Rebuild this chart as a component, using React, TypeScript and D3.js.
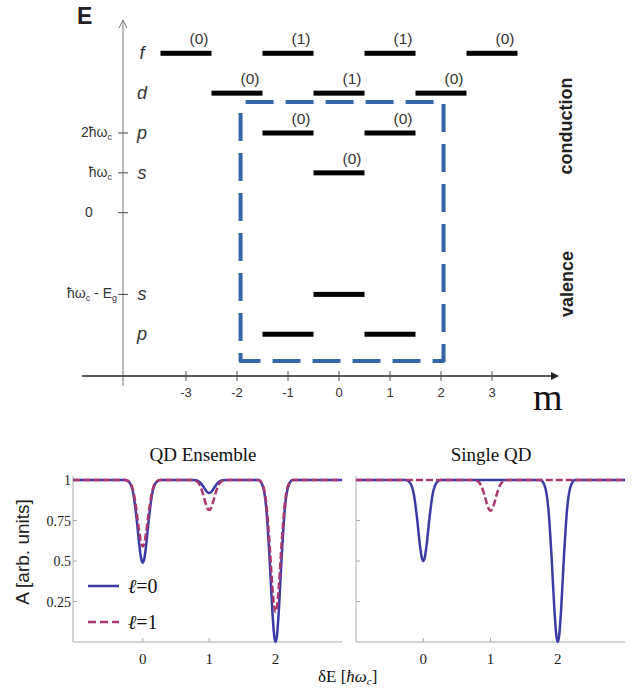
import React from 'react';
import * as d3 from 'd3';

// ---------- Top panel data (Fock–Darwin levels) ----------
const mTicks = [-3, -2, -1, 0, 1, 2, 3];
const shellNames = ['f', 'd', 'p', 's', 's', 'p'];
const shellEnergies = [4, 3, 2, 1, -2.05, -3.05];
const levelM = [-3, -1, 1, 3, -2, 0, 2, -1, 1, 0, 0, -1, 1];
const levelEnergy = [4, 4, 4, 4, 3, 3, 3, 2, 2, 1, -2.05, -3.05, -3.05];
const levelLabels = ['(0)', '(1)', '(1)', '(0)', '(0)', '(1)', '(0)', '(0)', '(0)', '(0)', '', '', ''];
const energyTicks = [2, 1, 0, -2.05];
const energyTickLabels = [
  [['2ħω', false], ['c', true]],
  [['ħω', false], ['c', true]],
  [['0', false]],
  [['ħω', false], ['c', true], [' - E', false], ['g', true]],
];
const boxM = [-1.93, 2.05];
const boxE = [2.78, -3.72];

// ---------- Bottom panels data (absorption A vs δE) ----------
const aTicks = [1, 0.75, 0.5, 0.25];
const aTickLabels = ['1', '0.75', '0.5', '0.25'];
const dETicks = [0, 1, 2];

const ensembleL0 = [
  [-1.05, 1], [-0.26, 1], [-0.2, 0.985], [-0.14, 0.911], [-0.09, 0.752], [-0.05, 0.592], [-0.02, 0.508], [0, 0.49],
  [0.02, 0.508], [0.05, 0.592], [0.09, 0.752], [0.14, 0.911], [0.2, 0.985], [0.26, 1],
  [0.74, 1], [0.8, 0.998], [0.86, 0.986], [0.91, 0.961], [0.95, 0.936], [0.98, 0.923], [1, 0.92],
  [1.02, 0.923], [1.05, 0.936], [1.09, 0.961], [1.14, 0.986], [1.2, 0.998], [1.26, 1],
  [1.74, 1], [1.8, 0.971], [1.86, 0.825], [1.91, 0.513], [1.95, 0.2], [1.98, 0.035], [2, 0],
  [2.02, 0.035], [2.05, 0.2], [2.09, 0.513], [2.14, 0.825], [2.2, 0.971], [2.26, 1], [3, 1],
];
const ensembleL1 = [
  [-1.05, 1], [-0.26, 1], [-0.2, 0.988], [-0.14, 0.928], [-0.09, 0.8], [-0.05, 0.672], [-0.02, 0.604], [0, 0.59],
  [0.02, 0.604], [0.05, 0.672], [0.09, 0.8], [0.14, 0.928], [0.2, 0.988], [0.26, 1],
  [0.74, 1], [0.8, 0.995], [0.86, 0.968], [0.91, 0.91], [0.95, 0.852], [0.98, 0.821], [1, 0.815],
  [1.02, 0.821], [1.05, 0.852], [1.09, 0.91], [1.14, 0.968], [1.2, 0.995], [1.26, 1],
  [1.74, 1], [1.8, 0.976], [1.86, 0.857], [1.91, 0.603], [1.95, 0.348], [1.98, 0.214], [2, 0.185],
  [2.02, 0.214], [2.05, 0.348], [2.09, 0.603], [2.14, 0.857], [2.2, 0.976], [2.26, 1], [3, 1],
];
const singleL0 = [
  [-1, 1], [-0.26, 1], [-0.2, 0.985], [-0.14, 0.912], [-0.09, 0.756], [-0.05, 0.6], [-0.02, 0.517], [0, 0.5],
  [0.02, 0.517], [0.05, 0.6], [0.09, 0.756], [0.14, 0.912], [0.2, 0.985], [0.26, 1],
  [1.74, 1], [1.8, 0.971], [1.86, 0.825], [1.91, 0.513], [1.95, 0.2], [1.98, 0.035], [2, 0],
  [2.02, 0.035], [2.05, 0.2], [2.09, 0.513], [2.14, 0.825], [2.2, 0.971], [2.26, 1], [3, 1],
];
const singleL1 = [
  [-1, 1], [0.74, 1], [0.8, 0.994], [0.86, 0.967], [0.91, 0.907], [0.95, 0.848], [0.98, 0.817], [1, 0.81],
  [1.02, 0.817], [1.05, 0.848], [1.09, 0.907], [1.14, 0.967], [1.2, 0.994], [1.26, 1], [3, 1],
];

const SANS = '"Liberation Sans", Arial, Helvetica, sans-serif';
const SERIF = '"Liberation Serif", "Times New Roman", serif';
const BLUE = '#3b3ba6';
const PURPLE = '#a8386f';
const BOX = '#3566a9';

function TopPanel() {
  const xM = d3.scaleLinear().domain([-3, 3]).range([186, 492]);
  const yE = d3.scaleLinear().domain([0, 4]).range([212.7, 53.3]);
  const axisX = 123;
  const axisY = 376;
  const boxPath = `M${xM(boxM[0])},${yE(boxE[0])} V${yE(boxE[1])} H${xM(boxM[1])} V${yE(boxE[0])} Z`;
  return (
    <g>
      <text x={77} y={24} fontFamily={SANS} fontWeight="bold" fontSize={23} fill="#222">E</text>
      {/* vertical axis */}
      <line x1={axisX} y1={386} x2={axisX} y2={20} stroke="#777" strokeWidth={1} />
      <path d={`M${axisX - 4},28 L${axisX},20 L${axisX + 4},28`} fill="none" stroke="#777" strokeWidth={1} />
      {/* horizontal axis */}
      <line x1={82} y1={axisY} x2={551} y2={axisY} stroke="#222" strokeWidth={1.3} />
      <path d={`M551,${axisY - 4} L559,${axisY} L551,${axisY + 4} Z`} fill="#222" />
      {mTicks.map((m) => (
        <g key={m}>
          <line x1={xM(m)} x2={xM(m)} y1={axisY - 5} y2={axisY + 5} stroke="#555" strokeWidth={1} />
          <text x={xM(m)} y={axisY + 21} textAnchor="middle" fontFamily={SANS} fontSize={13} fill="#333">{m}</text>
        </g>
      ))}
      <text x={533} y={410} fontFamily={SERIF} fontSize={38} fill="#111">m</text>
      {/* energy ticks */}
      {energyTicks.map((e, i) => (
        <g key={i}>
          <line x1={axisX - 5} x2={axisX + 5} y1={yE(e)} y2={yE(e)} stroke="#444" strokeWidth={1} />
          <text
            x={e === 0 ? 89 : i === 3 ? 117 : 112}
            y={yE(e) + 4}
            textAnchor={e === 0 ? 'middle' : 'end'}
            fontFamily={SANS}
            fontSize={14}
            fill="#333"
          >
            {energyTickLabels[i].map((p, j) => {
              const sub = p[1] as boolean;
              const prevSub = j > 0 && (energyTickLabels[i][j - 1][1] as boolean);
              return (
                <tspan key={j} fontSize={sub ? 9 : 14} dy={sub ? 3 : prevSub ? -3 : 0}>{p[0] as string}</tspan>
              );
            })}
          </text>
        </g>
      ))}
      {/* shell letters */}
      {shellNames.map((s, i) => (
        <text key={i} x={142} y={yE(shellEnergies[i]) + 6} textAnchor="middle" fontFamily={SANS} fontStyle="italic" fontSize={18} fill="#333">{s}</text>
      ))}
      {/* energy levels */}
      {levelM.map((m, i) => (
        <g key={i}>
          <rect x={xM(m - 0.5)} width={xM(m + 0.5) - xM(m - 0.5)} y={yE(levelEnergy[i]) - 2.5} height={5} fill="#000" />
          {levelLabels[i] && (
            <text x={xM(m) + 13} y={yE(levelEnergy[i]) - 9} textAnchor="middle" fontFamily={SANS} fontSize={15.5} fill="#333">{levelLabels[i]}</text>
          )}
        </g>
      ))}
      {/* dashed box */}
      <path d={boxPath} fill="none" stroke={BOX} strokeWidth={4} strokeDasharray="28,12" strokeDashoffset={29} strokeLinejoin="round" />
      <text transform={`translate(572,126) rotate(-90)`} textAnchor="middle" fontFamily={SANS} fontWeight="bold" fontSize={18} fill="#222">conduction</text>
      <text transform={`translate(573,284) rotate(-90)`} textAnchor="middle" fontFamily={SANS} fontWeight="bold" fontSize={18} fill="#222">valence</text>
    </g>
  );
}

function Panel({ x0, x1, dom0, title, titleX, s0, s1, showLabels, legend }: any) {
  const x = d3.scaleLinear().domain([dom0, 3]).range([x0, x1]);
  const y = d3.scaleLinear().domain([0, 1]).range([642, 480]);
  const line = d3.line<number[]>().x((d) => x(d[0])).y((d) => y(d[1])).curve(d3.curveMonotoneX);
  return (
    <g>
      <text x={titleX} y={461} textAnchor="middle" fontFamily={SERIF} fontSize={19} fill="#111">{title}</text>
      <line x1={x0} x2={x0} y1={476} y2={642} stroke="#aaa" strokeWidth={1} />
      <line x1={x0} x2={x1} y1={642} y2={642} stroke="#aaa" strokeWidth={1} />
      {aTicks.map((a, i) => (
        <g key={a}>
          <line x1={x0} x2={x0 + 4} y1={y(a)} y2={y(a)} stroke="#aaa" />
          {showLabels && (
            <text x={x0 - 2} y={y(a) + 5} textAnchor="end" fontFamily={SERIF} fontSize={14} fill="#222">{aTickLabels[i]}</text>
          )}
        </g>
      ))}
      {dETicks.map((t) => (
        <g key={t}>
          <line x1={x(t)} x2={x(t)} y1={642} y2={638} stroke="#aaa" />
          <text x={x(t)} y={664} textAnchor="middle" fontFamily={SERIF} fontSize={15} fill="#222">{t}</text>
        </g>
      ))}
      <path d={line(s0) || ''} fill="none" stroke={BLUE} strokeWidth={2.5} />
      <path d={line(s1) || ''} fill="none" stroke={PURPLE} strokeWidth={2.5} strokeDasharray="7,3" />
      {legend && (
        <g>
          <line x1={88} x2={119} y1={586} y2={586} stroke={BLUE} strokeWidth={2.5} />
          <text x={128} y={593} fontFamily={SERIF} fontSize={20} fill="#111">
            <tspan fontStyle="italic">ℓ</tspan>=0
          </text>
          <line x1={88} x2={119} y1={622} y2={622} stroke={PURPLE} strokeWidth={2.5} strokeDasharray="8,4" />
          <text x={128} y={629} fontFamily={SERIF} fontSize={20} fill="#111">
            <tspan fontStyle="italic">ℓ</tspan>=1
          </text>
        </g>
      )}
    </g>
  );
}

export default function App() {
  return (
    <svg
      width={638}
      height={690}
      viewBox="0 0 638 690"
      style={{ position: 'absolute', left: 0, top: 0, background: '#fff' }}
    >
      <rect width={638} height={690} fill="#fff" />
      <TopPanel />
      <Panel x0={73} x1={342} dom0={-1.05} title="QD Ensemble" titleX={203} s0={ensembleL0} s1={ensembleL1} showLabels legend />
      <Panel x0={356} x1={625} dom0={-1} title="Single QD" titleX={491} s0={singleL0} s1={singleL1} showLabels={false} legend={false} />
      <text transform="translate(29,552) rotate(-90)" textAnchor="middle" fontFamily={SANS} fontSize={19} fill="#222">A [arb. units]</text>
      <text x={318} y={682} fontFamily={SERIF} fontSize={17} fill="#111">
        δE [<tspan fontStyle="italic">ħω</tspan><tspan fontStyle="italic" fontSize={11} dy={3}>c</tspan><tspan dy={-3}>]</tspan>
      </text>
    </svg>
  );
}
